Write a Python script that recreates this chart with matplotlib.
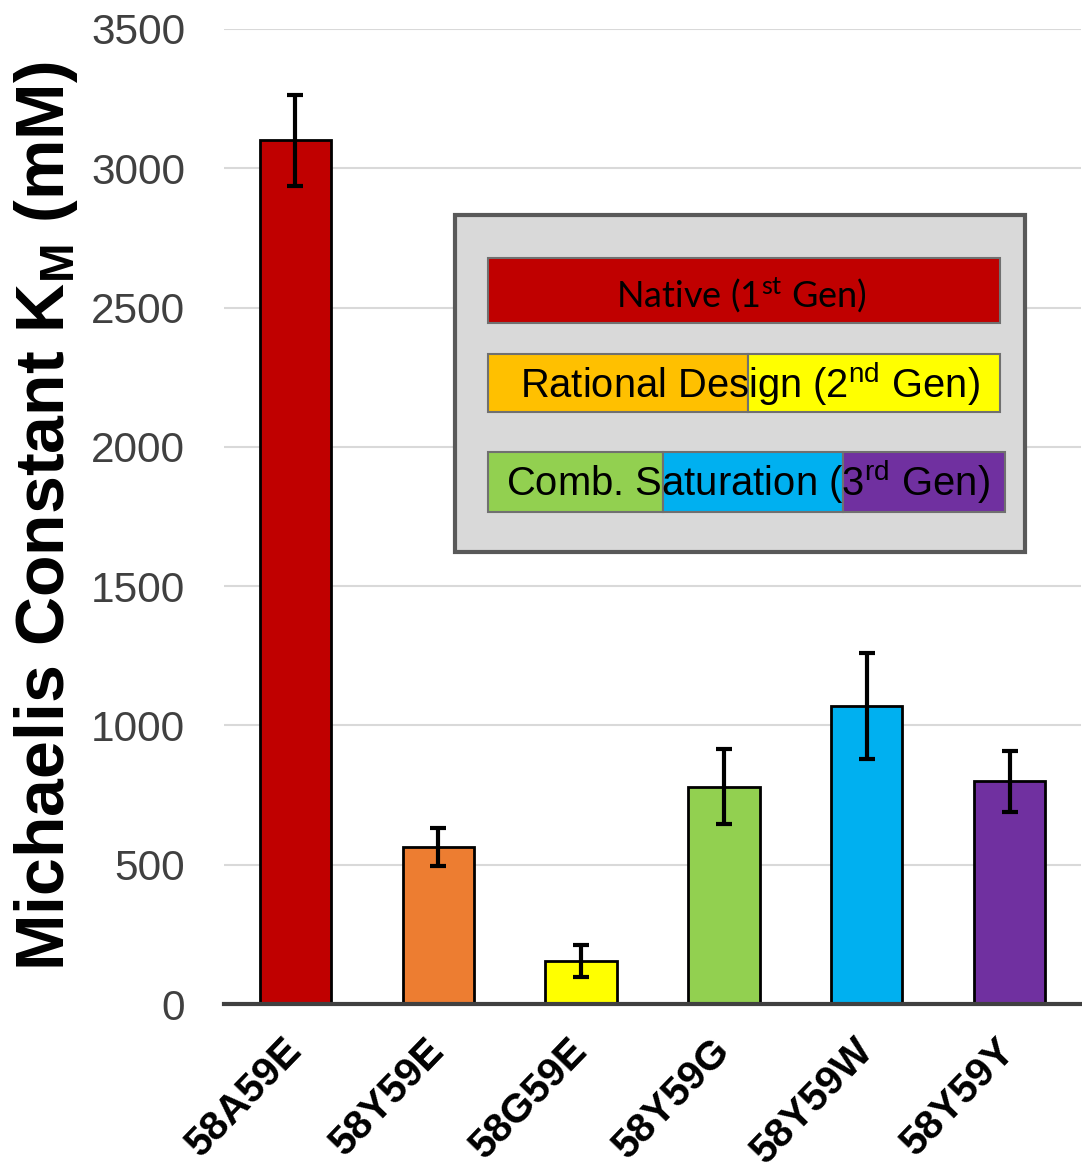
import matplotlib
matplotlib.use("Agg")
import matplotlib.pyplot as plt
from matplotlib.patches import Rectangle

plt.rcParams["font.family"] = ["Liberation Sans", "DejaVu Sans"]
plt.rcParams["mathtext.default"] = "regular"

# Michaelis constants of the enzyme variants (mM) with standard deviations
variants = ["58A59E", "58Y59E", "58G59E", "58Y59G", "58Y59W", "58Y59Y"]
km_values = [3100, 565, 155, 780, 1070, 800]
km_errors = [163, 68, 58, 135, 190, 110]
bar_colors = ["#C00000", "#ED7D31", "#FFFF00", "#92D050", "#00B0F0", "#7030A0"]
y_ticks = [0, 500, 1000, 1500, 2000, 2500, 3000, 3500]

fig = plt.figure(figsize=(10.82, 11.70), dpi=100)
ax = fig.add_axes([224 / 1082, 1 - 1004 / 1170, 857 / 1082, 975 / 1170])

x = list(range(len(variants)))
ax.bar(x, km_values, width=0.5, color=bar_colors, edgecolor="black",
       linewidth=2, zorder=3)
ax.errorbar(x, km_values, yerr=km_errors, fmt="none", ecolor="black",
            elinewidth=3, capsize=6, capthick=3, zorder=4)

ax.set_xlim(-0.5, len(variants) - 0.5)
ax.set_ylim(0, 3500)
ax.set_yticks(y_ticks)
ax.set_yticklabels([str(v) for v in y_ticks])
ax.yaxis.grid(True, color="#D9D9D9", linewidth=1.5, zorder=0)
ax.set_axisbelow(True)

for side in ("left", "right", "top"):
    ax.spines[side].set_visible(False)
ax.spines["bottom"].set_color("#404040")
ax.spines["bottom"].set_linewidth(3)
ax.spines["bottom"].set_zorder(5)

ax.tick_params(axis="y", length=0, pad=28, labelsize=30.5, labelcolor="#404040")
ax.tick_params(axis="x", length=0, pad=29)
ax.set_xticks(x)
ax.set_xticklabels(variants, rotation=46, ha="right", va="center",
                   rotation_mode="anchor", fontsize=29.5, fontweight="bold")

ax.set_ylabel("Michaelis Constant K$_{\\mathregular{M}}$ (mM)",
              fontsize=49, fontweight="bold")
ax.yaxis.set_label_coords(-0.168, 0.5)

# Generation key drawn as coloured strips inside a grey panel
tr = ax.transAxes
ax.add_patch(Rectangle((0.2695, 0.4636), 0.9347 - 0.2695, 0.8092 - 0.4636,
                       transform=tr, facecolor="#D9D9D9", edgecolor="#595959",
                       linewidth=3, zorder=6, clip_on=False))

def strip(x_edges, y0, y1, colors):
    for left, right, c in zip(x_edges[:-1], x_edges[1:], colors):
        ax.add_patch(Rectangle((left, y0), right - left, y1 - y0, transform=tr,
                               facecolor=c, edgecolor="#707070", linewidth=1.5,
                               zorder=7, clip_on=False))

strip([0.3081, 0.9055], 0.6985, 0.7651, ["#C00000"])
strip([0.3081, 0.6114, 0.9055], 0.6072, 0.6667, ["#FFC000", "#FFFF00"])
strip([0.3081, 0.5123, 0.7223, 0.9113], 0.5046, 0.5662,
      ["#92D050", "#00B0F0", "#7030A0"])

ax.text(0.6033, 0.7272, "Native (1$^{st}$ Gen)", transform=tr, ha="center",
        va="center", fontsize=26, family=["Lato", "DejaVu Sans"], zorder=8)
ax.text(0.6139, 0.6360, "Rational Design (2$^{nd}$ Gen)", transform=tr,
        ha="center", va="center", fontsize=28.7, zorder=8)
ax.text(0.6114, 0.5354, "Comb. Saturation (3$^{rd}$ Gen)", transform=tr,
        ha="center", va="center", fontsize=28.8, zorder=8)

fig.savefig("out.png", dpi=100)
